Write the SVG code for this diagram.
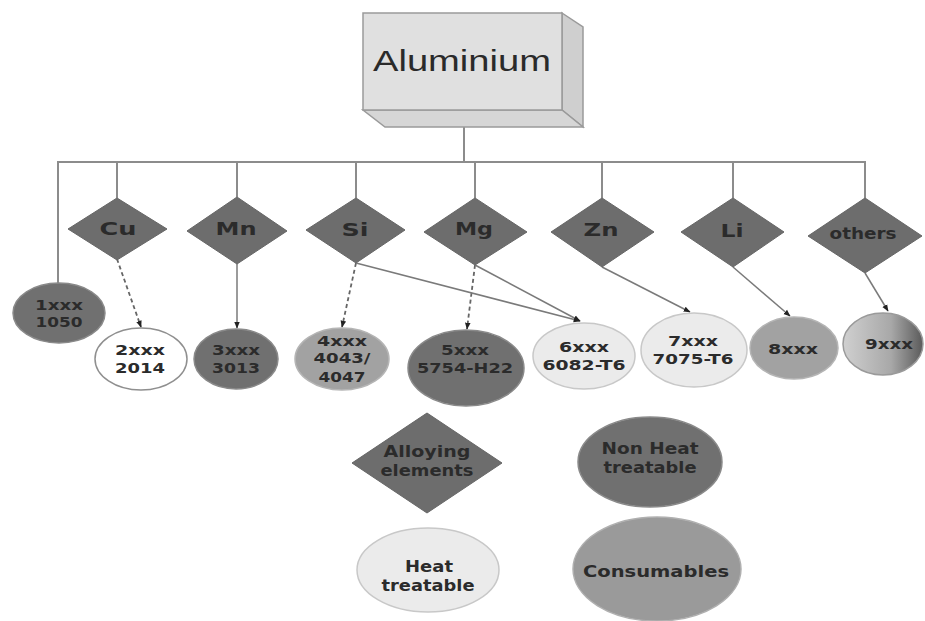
<svg xmlns="http://www.w3.org/2000/svg" width="925" height="621" viewBox="0 0 925 621">
<style>
.t{font-family:"DejaVu Sans",Verdana,sans-serif;font-weight:bold;fill:#2b2b2b;text-anchor:middle}
.s{font-size:13.5px}
.d{font-size:18px}
.l{font-size:15px}
.dia{fill:#6d6d6d;stroke:#666;stroke-width:1}
.dark{fill:#707070;stroke:#8a8a8a;stroke-width:1.5}
.mid{fill:#a2a2a2;stroke:#b5b5b5;stroke-width:1.5}
.light{fill:#ebebeb;stroke:#c8c8c8;stroke-width:1.5}
.conn line,.conn polyline{stroke:#8c8c8c;stroke-width:2;fill:none}
.conn .a{stroke:#7a7a7a;stroke-width:1.5;marker-end:url(#ah)}
.conn .da{stroke:#666;stroke-width:1.8;stroke-dasharray:4 3;marker-end:url(#ah)}
</style>
<defs>
<marker id="ah" viewBox="0 0 10 10" refX="9" refY="5" markerWidth="7" markerHeight="7" orient="auto" markerUnits="userSpaceOnUse">
<path d="M0,1 L10,5 L0,9 Z" fill="#222"/>
</marker>
<linearGradient id="g9" x1="0" y1="0" x2="1" y2="0">
<stop offset="0" stop-color="#d0d0d0"/>
<stop offset="0.6" stop-color="#a8a8a8"/>
<stop offset="1" stop-color="#5a5a5a"/>
</linearGradient>
</defs>
<rect width="925" height="621" fill="#ffffff"/>

<g class="conn">
<line x1="464" y1="127" x2="464" y2="162"/>
<polyline points="58,283 58,162 865,162 865,198"/>
<line x1="117" y1="162" x2="117" y2="198"/>
<line x1="237" y1="162" x2="237" y2="197"/>
<line x1="356" y1="162" x2="356" y2="198"/>
<line x1="475" y1="162" x2="475" y2="198"/>
<line x1="602" y1="162" x2="602" y2="198"/>
<line x1="733" y1="162" x2="733" y2="198"/>
<line class="da" x1="117" y1="259" x2="141" y2="327"/>
<line class="a" x1="237" y1="264" x2="237" y2="328"/>
<line class="da" x1="356" y1="263" x2="342" y2="327"/>
<line class="da" x1="475" y1="265" x2="467" y2="329"/>
<line class="a" x1="356" y1="263" x2="580" y2="321"/>
<line class="a" x1="475" y1="265" x2="580" y2="321"/>
<line class="a" x1="602" y1="267" x2="690" y2="312"/>
<line class="a" x1="733" y1="267" x2="790" y2="316"/>
<line class="a" x1="865" y1="273" x2="888" y2="311"/>
</g>

<g id="aluminium">
<polygon points="562,13 583,27 583,127 562,110" fill="#cfcfcf" stroke="#9a9a9a" stroke-width="1.5"/>
<polygon points="363,110 562,110 583,127 385,127" fill="#d6d6d6" stroke="#9a9a9a" stroke-width="1.5"/>
<rect x="363" y="13" width="199" height="97" fill="#e0e0e0" stroke="#9a9a9a" stroke-width="1.5"/>
<text x="462" y="71" style="font-family:'Liberation Sans',Arial,sans-serif;font-size:29px;fill:#2a2a2a;text-anchor:middle" textLength="178" lengthAdjust="spacingAndGlyphs">Aluminium</text>
</g>

<g id="cu"><polygon class="dia" points="117,198 167,229 117,260 68,229"/><text class="t d" x="118" y="235" textLength="37" lengthAdjust="spacingAndGlyphs">Cu</text></g>
<g id="mn"><polygon class="dia" points="237,197 287,231 237,264 187,231"/><text class="t d" x="236" y="235" textLength="41" lengthAdjust="spacingAndGlyphs">Mn</text></g>
<g id="si"><polygon class="dia" points="356,198 405,230 356,263 306,230"/><text class="t d" x="355" y="236" textLength="27" lengthAdjust="spacingAndGlyphs">Si</text></g>
<g id="mg"><polygon class="dia" points="475,198 527,232 475,265 424,232"/><text class="t d" x="474" y="235" textLength="38" lengthAdjust="spacingAndGlyphs">Mg</text></g>
<g id="zn"><polygon class="dia" points="602,198 654,232 602,267 551,232"/><text class="t d" x="601" y="236" textLength="35" lengthAdjust="spacingAndGlyphs">Zn</text></g>
<g id="li"><polygon class="dia" points="733,198 784,232 733,267 681,232"/><text class="t d" x="732" y="237" textLength="23" lengthAdjust="spacingAndGlyphs">Li</text></g>
<g id="others"><polygon class="dia" points="865,198 922,236 865,273 808,236"/><text class="t" style="font-size:15px" x="863" y="239" textLength="67" lengthAdjust="spacingAndGlyphs">others</text></g>

<g id="n1xxx"><ellipse class="dark" cx="59" cy="313" rx="46" ry="30"/>
<text class="t s" x="59" y="310" textLength="48" lengthAdjust="spacingAndGlyphs">1xxx</text>
<text class="t s" x="59" y="327" textLength="47" lengthAdjust="spacingAndGlyphs">1050</text></g>
<g id="n2xxx"><ellipse cx="141" cy="359" rx="46" ry="31" fill="#ffffff" stroke="#8f8f8f" stroke-width="1.5"/>
<text class="t s" x="140" y="355" textLength="50" lengthAdjust="spacingAndGlyphs">2xxx</text>
<text class="t s" x="140" y="373" textLength="50" lengthAdjust="spacingAndGlyphs">2014</text></g>
<g id="n3xxx"><ellipse class="dark" cx="236" cy="359" rx="42" ry="30"/>
<text class="t s" x="236" y="355" textLength="48" lengthAdjust="spacingAndGlyphs">3xxx</text>
<text class="t s" x="236" y="373" textLength="48" lengthAdjust="spacingAndGlyphs">3013</text></g>
<g id="n4xxx"><ellipse class="mid" cx="342" cy="359" rx="47" ry="31"/>
<text class="t s" x="342" y="346" textLength="50" lengthAdjust="spacingAndGlyphs">4xxx</text>
<text class="t s" x="342" y="363" textLength="57" lengthAdjust="spacingAndGlyphs">4043/</text>
<text class="t s" x="342" y="382" textLength="47" lengthAdjust="spacingAndGlyphs">4047</text></g>
<g id="n5xxx"><ellipse class="dark" cx="466" cy="368" rx="58" ry="38"/>
<text class="t s" x="465" y="355" textLength="48" lengthAdjust="spacingAndGlyphs">5xxx</text>
<text class="t s" x="465" y="373" textLength="96" lengthAdjust="spacingAndGlyphs">5754-H22</text></g>
<g id="n6xxx"><ellipse class="light" cx="584" cy="356" rx="51" ry="33"/>
<text class="t s" x="584" y="352" textLength="50" lengthAdjust="spacingAndGlyphs">6xxx</text>
<text class="t s" x="584" y="370" textLength="83" lengthAdjust="spacingAndGlyphs">6082-T6</text></g>
<g id="n7xxx"><ellipse class="light" cx="694" cy="350" rx="53" ry="37"/>
<text class="t s" x="693" y="346" textLength="50" lengthAdjust="spacingAndGlyphs">7xxx</text>
<text class="t s" x="693" y="364" textLength="81" lengthAdjust="spacingAndGlyphs">7075-T6</text></g>
<g id="n8xxx"><ellipse class="mid" cx="794" cy="348" rx="44" ry="31"/>
<text class="t s" x="793" y="354" textLength="50" lengthAdjust="spacingAndGlyphs">8xxx</text></g>
<g id="n9xxx"><ellipse cx="883" cy="344" rx="40" ry="31" fill="url(#g9)" stroke="#9a9a9a" stroke-width="1.5"/>
<text class="t s" x="889" y="349" textLength="48" lengthAdjust="spacingAndGlyphs">9xxx</text></g>

<g id="legend-alloying"><polygon class="dia" points="427,413 502,463 427,513 352,463"/>
<text class="t l" x="427" y="457" textLength="87" lengthAdjust="spacingAndGlyphs">Alloying</text>
<text class="t l" x="427" y="476" textLength="93" lengthAdjust="spacingAndGlyphs">elements</text></g>
<g id="legend-nonheat"><ellipse class="dark" cx="650" cy="462" rx="72" ry="45"/>
<text class="t l" x="650" y="454" textLength="97" lengthAdjust="spacingAndGlyphs">Non Heat</text>
<text class="t l" x="650" y="473" textLength="93" lengthAdjust="spacingAndGlyphs">treatable</text></g>
<g id="legend-heat"><ellipse class="light" cx="428" cy="570" rx="71" ry="42"/>
<text class="t l" x="429" y="572" textLength="48" lengthAdjust="spacingAndGlyphs">Heat</text>
<text class="t l" x="428" y="591" textLength="93" lengthAdjust="spacingAndGlyphs">treatable</text></g>
<g id="legend-consumables"><ellipse cx="657" cy="569" rx="84" ry="52" fill="#9a9a9a" stroke="#b0b0b0" stroke-width="1.5"/>
<text class="t l" x="656" y="577" textLength="146" lengthAdjust="spacingAndGlyphs">Consumables</text></g>
</svg>
